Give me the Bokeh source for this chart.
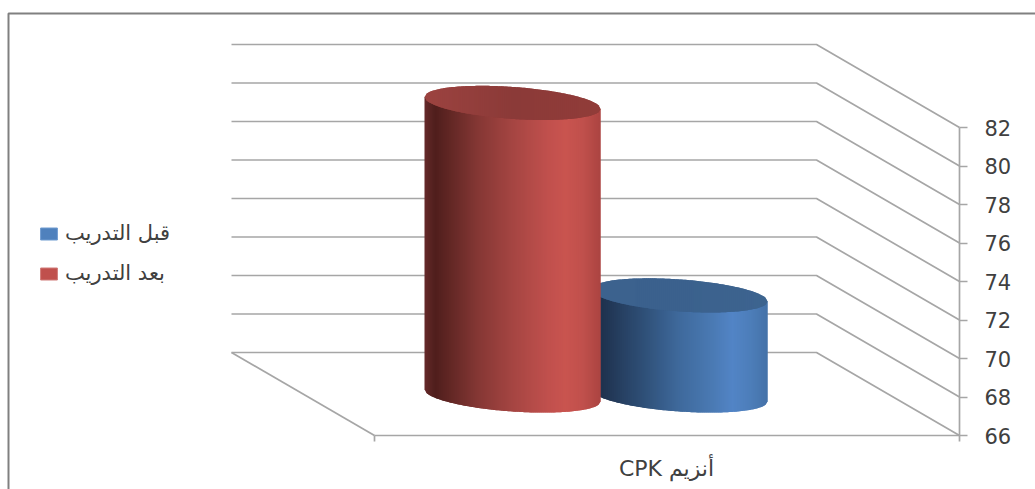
from bokeh.embed import file_html
from bokeh.models import FixedTicker, Legend, LegendItem, LinearAxis, Range1d
from bokeh.plotting import figure
from bokeh.resources import INLINE
import numpy as np

# Chart content
category_label = "CPK أنزيم"
series_names = ["قبل التدريب", "بعد التدريب"]
series_values = [71.2, 81.2]
tick_values = [66, 68, 70, 72, 74, 76, 78, 80, 82]

# Page layout, in pixels
WIDTH, HEIGHT = 1035, 489
PX_PER_UNIT = 19.25
BASE_PX = 435               # page row of the axis minimum on the front plane
AXIS_X = 959                # front right corner of the floor
FRONT_LEFT_X = 374
DEPTH_X, DEPTH_PX = 143, 83  # shift of the back wall from the front plane
BACK_LEFT_X = 231
BORDER_LEFT, BORDER_TOP_PX = 8, 13
GRID = "#a6a6a6"
INK = "#404040"
FONT = "DejaVu Sans"

y_min = tick_values[0]


def row_to_value(row):
    return y_min + (BASE_PX - row) / PX_PER_UNIT


depth_units = DEPTH_PX / PX_PER_UNIT

p = figure(
    width=WIDTH, height=HEIGHT, output_backend="svg", toolbar_location=None,
    x_range=Range1d(0, WIDTH), y_range=Range1d(row_to_value(HEIGHT), row_to_value(0)),
    min_border=0, outline_line_color=None, background_fill_color="white",
    border_fill_color="white", x_axis_location=None, y_axis_location=None,
)
p.xgrid.visible = False
p.ygrid.visible = False

# Outer chart border: top and left edges only
p.line([BORDER_LEFT, BORDER_LEFT, WIDTH],
       [row_to_value(HEIGHT), row_to_value(BORDER_TOP_PX), row_to_value(BORDER_TOP_PX)],
       line_color="#808080", line_width=2)

# Back wall gridlines, each running on along the side wall to the value axis
wall_xs = [[BACK_LEFT_X, AXIS_X - DEPTH_X, AXIS_X] for _ in tick_values]
wall_ys = [[t + depth_units, t + depth_units, t] for t in tick_values]
p.multi_line(wall_xs, wall_ys, line_color=GRID, line_width=1.7)

# Left edge of the floor
p.line([BACK_LEFT_X, FRONT_LEFT_X], [y_min + depth_units, y_min],
       line_color=GRID, line_width=1.7)

# Horizontal shading of a cylinder, as (position across, colour) stops
RED_BODY = [(0, "#66292a"), (.06, "#4f1e1c"), (.3, "#843734"), (.5, "#a54542"),
            (.7, "#c0504d"), (.8, "#c9544f"), (.9, "#c0504c"), (1, "#ab4441")]
RED_TOP = [(0, "#9c4340"), (.5, "#8b3a38"), (1, "#913c39")]
BLUE_BODY = [(0, "#2a4060"), (.06, "#1f324f"), (.3, "#2f5078"), (.5, "#3f6a9c"),
             (.7, "#4b7bb5"), (.8, "#5284c6"), (.9, "#4d7eba"), (1, "#4472a8")]
BLUE_TOP = [(0, "#3c628e"), (.5, "#3b618d"), (1, "#3d648f")]


def shade(stops, frac):
    fr = [s[0] for s in stops]
    rgb = [[int(s[1][i:i + 2], 16) for s in stops] for i in (1, 3, 5)]
    r, g, b = (int(round(np.interp(frac, fr, c))) for c in rgb)
    return f"#{r:02x}{g:02x}{b:02x}"


HALF_W = 88
RIM_B = 16.0 / PX_PER_UNIT    # half height of the elliptical rim
RIM_TILT = 6.0 / PX_PER_UNIT  # rise of the rim from right to left
FLOOR_LIFT = 40 / PX_PER_UNIT  # cylinders stand just in front of mid depth
STRIP = 2


def arc(u, centre, sign):
    return centre + RIM_TILT * -u + sign * RIM_B * np.sqrt(np.clip(1 - u ** 2, 0, 1))


def strips(cx, lower, upper, stops):
    # Each strip runs under its right neighbour so no seam shows between them
    edges = np.arange(cx - HALF_W, cx + HALF_W + 1, STRIP)
    xs, ys, cols = [], [], []
    for x0, x1 in zip(edges[:-1], edges[1:]):
        x2 = min(x1 + STRIP, cx + HALF_W)
        frac = (0.5 * (x0 + x1) - (cx - HALF_W)) / (2 * HALF_W)
        u = [(x - cx) / HALF_W for x in (x0, x1, x2)]
        xs.append([x0, x1, x2, x2, x1, x0])
        ys.append([upper(u[0]), upper(u[1]), upper(u[2]), lower(u[2]), lower(u[1]), lower(u[0])])
        cols.append(shade(stops, frac))
    p.patches(xs, ys, fill_color=cols, line_color=None)


def cylinder(cx, value, body_stops, top_stops):
    base = y_min + FLOOR_LIFT
    top = value + FLOOR_LIFT
    strips(cx, lambda u: arc(u, base, -1), lambda u: arc(u, top, 0), body_stops)
    strips(cx, lambda u: arc(u, top, -1), lambda u: arc(u, top, 1), top_stops)


# The nearer series is painted last so it overlaps the other one
cylinder(679, series_values[0], BLUE_BODY, BLUE_TOP)
cylinder(512, series_values[1], RED_BODY, RED_TOP)

# Value axis on the front right edge
y_axis = LinearAxis(
    fixed_location=AXIS_X, bounds=(tick_values[0], tick_values[-1]),
    ticker=FixedTicker(ticks=tick_values),
    axis_line_color=GRID, axis_line_width=1.7,
    major_tick_line_color=GRID, major_tick_line_width=1.7,
    major_tick_in=0, major_tick_out=8, minor_tick_out=0, minor_tick_in=0,
    major_label_text_font=FONT, major_label_text_font_size="21px",
    major_label_text_color=INK, major_label_standoff=17,
)
p.add_layout(y_axis, "right")

# Category axis on the front edge of the floor
x_centre = (FRONT_LEFT_X + AXIS_X) // 2
x_axis = LinearAxis(
    fixed_location=y_min, bounds=(FRONT_LEFT_X, AXIS_X),
    ticker=FixedTicker(ticks=[x_centre], minor_ticks=[FRONT_LEFT_X, AXIS_X]),
    major_label_overrides={x_centre: category_label},
    axis_line_color=GRID, axis_line_width=1.7,
    major_tick_in=0, major_tick_out=0,
    minor_tick_line_color=GRID, minor_tick_line_width=1.7, minor_tick_in=0, minor_tick_out=6,
    major_label_text_font=FONT, major_label_text_font_size="22px",
    major_label_text_color=INK, major_label_standoff=14,
)
p.add_layout(x_axis, "below")

# Legend swatches (Bokeh paints area swatches at 80% of the glyph box)
nan = [float("nan")]
r_before = p.quad(left=nan, right=nan, top=nan, bottom=nan, fill_color="#4f81bd", line_color="#6f9bd0")
r_after = p.quad(left=nan, right=nan, top=nan, bottom=nan, fill_color="#c0504d", line_color="#d07a78")
legend = Legend(
    items=[LegendItem(label=series_names[0], renderers=[r_before]),
           LegendItem(label=series_names[1], renderers=[r_after])],
    location=(38, 489 - 285), orientation="vertical",
    glyph_width=21, glyph_height=15, label_standoff=6, spacing=16, label_height=20,
    margin=0, padding=0, background_fill_alpha=0, border_line_color=None,
    label_text_font=FONT, label_text_font_size="21px", label_text_color=INK,
)
p.add_layout(legend, "center")

open("out.html", "w").write(file_html(p, INLINE))
